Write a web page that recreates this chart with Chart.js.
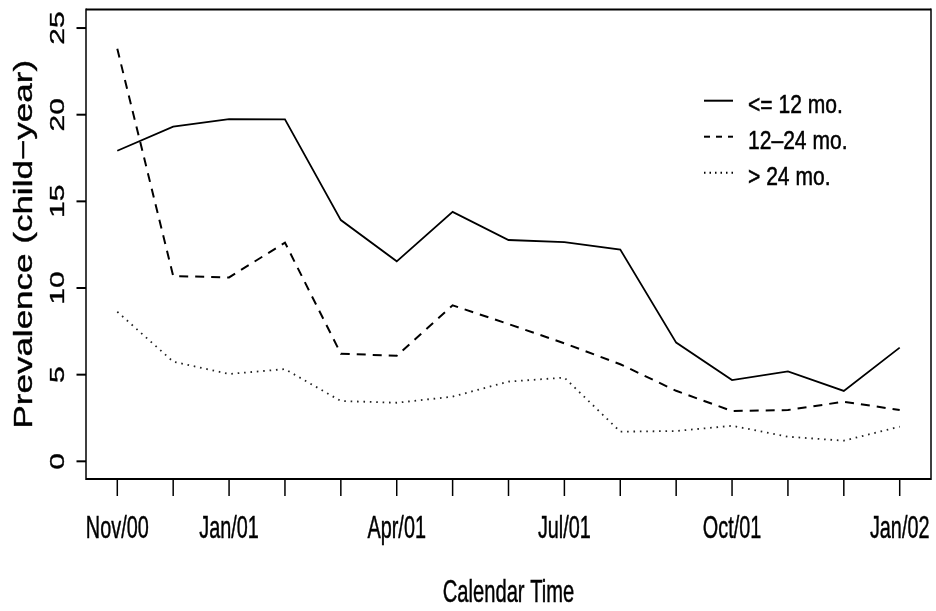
<!DOCTYPE html>
<html>
<head>
<meta charset="utf-8">
<script src="https://cdn.jsdelivr.net/npm/chart.js@4/dist/chart.umd.min.js"></script>
<style>
  html, body { margin: 0; padding: 0; background: #fff; }
  #c { display: block; }
</style>
</head>
<body>
<canvas id="c" width="936" height="611"></canvas>
<script>
// Mois de Nov/00 à Jan/02
const months = ['Nov/00', 'Dec/00', 'Jan/01', 'Feb/01', 'Mar/01', 'Apr/01', 'May/01', 'Jun/01',
                'Jul/01', 'Aug/01', 'Sep/01', 'Oct/01', 'Nov/01', 'Dec/01', 'Jan/02'];
// Seuls ces libellés sont affichés sous l'axe
const shownLabels = ['Nov/00', 'Jan/01', 'Apr/01', 'Jul/01', 'Oct/01', 'Jan/02'];
const yTicks = [0, 5, 10, 15, 20, 25];

const under12 = [17.92, 19.31, 19.75, 19.73, 13.92, 11.54, 14.39, 12.77, 12.65, 12.22, 6.85, 4.69, 5.19, 4.06, 6.56];
const from12to24 = [23.8, 10.69, 10.61, 12.62, 6.21, 6.09, 9.0, 7.92, 6.81, 5.6, 4.07, 2.9, 2.96, 3.44, 2.96];
const over24 = [8.63, 5.75, 5.04, 5.32, 3.48, 3.38, 3.73, 4.6, 4.83, 1.71, 1.75, 2.05, 1.42, 1.19, 2.0];

const seriesNames = ['<= 12 mo.', '12\u201324 mo.', '> 24 mo.'];
const yTitle = 'Prevalence (child\u2212year)';
const xTitle = 'Calendar Time';

const FONT = '"Liberation Sans", Arial, sans-serif';

const toPoints = (arr) => arr.map((v, i) => ({ x: i, y: v }));

// Texte compressé horizontalement (comme le graphique R d'origine)
function drawText(ctx, str, x, y, size, sx, vertical, align) {
    ctx.save();
    ctx.translate(x, y);
    ctx.scale(sx, 1);
    if (vertical) ctx.rotate(-Math.PI / 2);
    ctx.font = size + 'px ' + FONT;
    ctx.fillStyle = '#000';
    ctx.strokeStyle = '#000';
    ctx.lineWidth = 0.5;
    ctx.setLineDash([]);
    ctx.textAlign = align || 'center';
    ctx.textBaseline = 'alphabetic';
    ctx.fillText(str, 0, 0);
    ctx.strokeText(str, 0, 0);
    ctx.restore();
}

const frameAndText = {
    id: 'frameAndText',
    afterDraw(chart) {
        const ctx = chart.ctx;
        const a = chart.chartArea;
        const xs = chart.scales.x;
        const ys = chart.scales.y;

        ctx.save();
        ctx.strokeStyle = '#000';
        ctx.setLineDash([]);
        // cadre
        ctx.lineWidth = 2;
        ctx.beginPath();
        ctx.moveTo(a.left, a.top); ctx.lineTo(a.right, a.top);
        ctx.moveTo(a.left, a.bottom); ctx.lineTo(a.right, a.bottom);
        ctx.stroke();
        ctx.lineWidth = 1.5;
        ctx.beginPath();
        ctx.moveTo(a.left, a.top - 1); ctx.lineTo(a.left, a.bottom + 1);
        ctx.moveTo(a.right, a.top - 1); ctx.lineTo(a.right, a.bottom + 1);
        ctx.stroke();

        // graduations x
        months.forEach((m, i) => {
            const px = xs.getPixelForValue(i);
            ctx.lineWidth = 1.5;
            ctx.beginPath();
            ctx.moveTo(px, a.bottom);
            ctx.lineTo(px, a.bottom + 17);
            ctx.stroke();
            if (shownLabels.includes(m)) {
                drawText(ctx, m, px, 538, 32, 0.62, false, 'center');
            }
        });

        // graduations y
        yTicks.forEach(v => {
            const py = ys.getPixelForValue(v);
            ctx.lineWidth = 2;
            ctx.beginPath();
            ctx.moveTo(a.left, py);
            ctx.lineTo(a.left - 9.5, py);
            ctx.stroke();
            drawText(ctx, String(v), 64, py, 30, 0.70, true, 'center');
        });

        // titres des axes
        drawText(ctx, xTitle, (a.left + a.right) / 2, 601.5, 32, 0.63, false, 'center');
        drawText(ctx, yTitle, 31.5, (a.top + a.bottom) / 2, 35, 0.75, true, 'center');

        // légende
        const dashes = [[], [6, 6], [1.5, 4]];
        chart.data.datasets.forEach((ds, k) => {
            const ly = 100.7 + k * 36;
            ctx.lineWidth = 2;
            ctx.setLineDash(dashes[k]);
            ctx.beginPath();
            ctx.moveTo(704, ly);
            ctx.lineTo(733, ly);
            ctx.stroke();
            ctx.setLineDash([]);
            drawText(ctx, ds.label, 748, ly + 12.3, 26, 0.81, false, 'left');
        });
        ctx.restore();
    }
};

new Chart(document.getElementById('c'), {
    type: 'line',
    data: {
        datasets: [
            { label: seriesNames[0], data: toPoints(under12), borderColor: '#000', borderWidth: 1.8, borderDash: [] },
            { label: seriesNames[1], data: toPoints(from12to24), borderColor: '#000', borderWidth: 2, borderDash: [9, 7] },
            { label: seriesNames[2], data: toPoints(over24), borderColor: '#222', borderWidth: 1.8, borderDash: [1.6, 4.8] }
        ]
    },
    options: {
        responsive: false,
        devicePixelRatio: 1,
        animation: false,
        layout: { padding: { top: 9.5, right: 5, left: 0, bottom: 0 } },
        elements: {
            point: { radius: 0, hoverRadius: 0 },
            line: { tension: 0, fill: false, borderCapStyle: 'butt', borderJoinStyle: 'miter' }
        },
        plugins: { legend: { display: false }, tooltip: { enabled: false } },
        scales: {
            x: {
                type: 'linear', min: -0.56, max: 14.56,
                ticks: { display: false }, grid: { display: false }, border: { display: false },
                afterFit: (s) => { s.height = 132; }
            },
            y: {
                type: 'linear', min: -1.02, max: 26.07,
                ticks: { display: false }, grid: { display: false }, border: { display: false },
                afterFit: (s) => { s.width = 86; }
            }
        }
    },
    plugins: [frameAndText]
});
</script>
</body>
</html>
